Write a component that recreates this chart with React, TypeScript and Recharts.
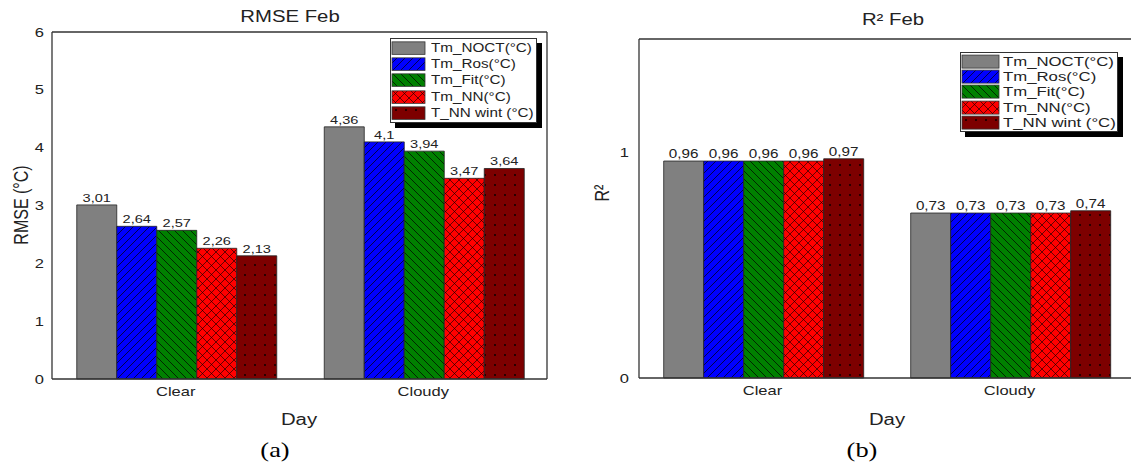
import React from 'react';
import { BarChart, Bar, XAxis, YAxis, LabelList } from 'recharts';

const categories = ['Clear', 'Cloudy'];
const seriesKeys = ['noct', 'ros', 'fit', 'nn', 'nnw'];
const seriesNames = ['Tm_NOCT(°C)', 'Tm_Ros(°C)', 'Tm_Fit(°C)', 'Tm_NN(°C)', 'T_NN wint (°C)'];

const rmseNoct = [3.01, 4.36];
const rmseRos = [2.64, 4.1];
const rmseFit = [2.57, 3.94];
const rmseNN = [2.26, 3.47];
const rmseNNWint = [2.13, 3.64];

const r2Noct = [0.96, 0.73];
const r2Ros = [0.96, 0.73];
const r2Fit = [0.96, 0.73];
const r2NN = [0.96, 0.73];
const r2NNWint = [0.97, 0.74];

const rmseTicks = [0, 1, 2, 3, 4, 5, 6];
const rmseMinorTicks = [0.5, 1.5, 2.5, 3.5, 4.5, 5.5];
const r2Ticks = [0, 1];
const r2MinorTicks = [0.5];
const catTickPositions = [0.5, 1, 1.5];

const rmseData = categories.map((day, i) => ({
  day,
  noct: rmseNoct[i],
  ros: rmseRos[i],
  fit: rmseFit[i],
  nn: rmseNN[i],
  nnw: rmseNNWint[i],
}));

const r2Data = categories.map((day, i) => ({
  day,
  noct: r2Noct[i],
  ros: r2Ros[i],
  fit: r2Fit[i],
  nn: r2NN[i],
  nnw: r2NNWint[i],
}));

const FONT = '"Liberation Sans", Arial, Helvetica, sans-serif';
const TEXT = '#222';
const AXIS = '#333';
const SX = 1.27;

function Patterns({ p }: { p: string }) {
  return (
    <defs>
      <pattern id={`${p}-noct`} patternUnits="userSpaceOnUse" width="8" height="8">
        <rect width="8" height="8" fill="#808080" />
      </pattern>
      <pattern id={`${p}-ros`} patternUnits="userSpaceOnUse" width="8" height="8">
        <rect width="8" height="8" fill="#0000ff" />
        <path d="M-2,2 L2,-2 M0,8 L8,0 M6,10 L10,6" stroke="#000" strokeWidth="0.7" />
      </pattern>
      <pattern id={`${p}-fit`} patternUnits="userSpaceOnUse" width="8" height="8">
        <rect width="8" height="8" fill="#008000" />
        <path d="M-2,6 L2,10 M0,0 L8,8 M6,-2 L10,2" stroke="#000" strokeWidth="0.7" />
      </pattern>
      <pattern id={`${p}-nn`} patternUnits="userSpaceOnUse" width="9" height="9">
        <rect width="9" height="9" fill="#ff0000" />
        <path d="M0,0 L9,9 M9,0 L0,9" stroke="#000" strokeWidth="0.6" />
      </pattern>
      <pattern id={`${p}-nnw`} patternUnits="userSpaceOnUse" width="10" height="10">
        <rect width="10" height="10" fill="#7d0000" />
        <circle cx="5" cy="5" r="0.9" fill="#000" />
      </pattern>
    </defs>
  );
}

const fmt = (v: any) => String(v).replace('.', ',');

function SText({ x, y, anchor, dy, size, children }: any) {
  return (
    <text
      x={x}
      y={y}
      dy={dy}
      textAnchor={anchor}
      fontSize={size}
      fill={TEXT}
      fontFamily={FONT}
      transform={`translate(${x} ${y}) scale(${SX} 1) translate(${-x} ${-y})`}
    >
      {children}
    </text>
  );
}

const XTick = (props: any) => (
  <SText x={props.x} y={props.y} anchor="middle" dy="0.71em" size={13}>
    {props.payload.value}
  </SText>
);

const YTick = (props: any) => (
  <SText x={props.x} y={props.y} anchor="end" dy="0.355em" size={13}>
    {props.payload.value}
  </SText>
);

const makeBarLabel = (size: number) => (props: any) => {
  const { x, y, width, value } = props;
  return (
    <SText x={Number(x) + Number(width) / 2} y={Number(y) - 3} anchor="middle" dy="0" size={size}>
      {fmt(value)}
    </SText>
  );
};

function Legendbox({ p, left, top, width, rowH, fontSize, swW, swH, gap }: any) {
  return (
    <div
      style={{
        position: 'absolute',
        left,
        top,
        width,
        border: '1px solid #333',
        background: '#fff',
        boxShadow: '5px 5px 0 #000',
        padding: '1px 0',
        fontFamily: FONT,
        fontSize,
        color: TEXT,
      }}
    >
      {seriesKeys.map((k, i) => (
        <div key={k} style={{ display: 'flex', alignItems: 'center', height: rowH }}>
          <svg width={swW + 2} height={rowH} style={{ display: 'block', flex: 'none' }}>
            <Patterns p={`${p}-${i}`} />
            <rect x={1} y={(rowH - swH) / 2} width={swW} height={swH} fill={`url(#${p}-${i}-${k})`} stroke="#333" strokeWidth={0.8} />
          </svg>
          <span
            style={{
              marginLeft: gap,
              whiteSpace: 'nowrap',
              lineHeight: 1,
              display: 'inline-block',
              transform: `scaleX(${SX})`,
              transformOrigin: 'left center',
            }}
          >
            {seriesNames[i]}
          </span>
        </div>
      ))}
    </div>
  );
}

function CText({ x, y, children, size = 16, rotate = false, serif = false, sx = SX }: any) {
  return (
    <div
      style={{
        position: 'absolute',
        left: x,
        top: y,
        transform: `translate(-50%, -50%)${rotate ? ` rotate(-90deg) scaleY(${sx})` : ` scaleX(${sx})`}`,
        whiteSpace: 'nowrap',
        lineHeight: 1,
        fontSize: size,
        fontFamily: serif ? '"Liberation Serif", "Times New Roman", serif' : FONT,
        color: serif ? '#000' : TEXT,
      }}
    >
      {children}
    </div>
  );
}

function Panel({ data, p, width, margin, domain, ticks, minor, labelSize, tickMargin }: any) {
  return (
    <BarChart width={width} height={466} data={data} margin={margin} barCategoryGap="10%" barGap={0}>
      <Patterns p={p} />
      {seriesKeys.map((k, i) => (
        <Bar
          key={k}
          yAxisId="main"
          dataKey={k}
          name={seriesNames[i]}
          fill={`url(#${p}-${k})`}
          stroke="#222"
          strokeWidth={0.8}
          isAnimationActive={false}
        >
          <LabelList dataKey={k} content={makeBarLabel(labelSize)} />
        </Bar>
      ))}
      <XAxis
        dataKey="day"
        height={30}
        tickLine={false}
        tickSize={0}
        tickMargin={8}
        axisLine={{ stroke: AXIS, strokeWidth: 1.3 }}
        tick={<XTick />}
      />
      <XAxis dataKey="day" xAxisId="top" orientation="top" mirror tick={false} tickLine={false} axisLine={{ stroke: AXIS, strokeWidth: 1.3 }} />
      <XAxis xAxisId="tb" type="number" domain={[0, 2]} ticks={catTickPositions} interval={0} mirror tick={false} tickSize={4} tickLine={{ stroke: AXIS }} axisLine={false} />
      <XAxis xAxisId="tt" type="number" orientation="top" domain={[0, 2]} ticks={catTickPositions} interval={0} mirror tick={false} tickSize={4} tickLine={{ stroke: AXIS }} axisLine={false} />
      <YAxis
        yAxisId="main"
        width={40}
        domain={domain}
        ticks={ticks}
        interval={0}
        tickLine={false}
        tickSize={0}
        tickMargin={tickMargin}
        axisLine={{ stroke: AXIS, strokeWidth: 1.3 }}
        tick={<YTick />}
      />
      <YAxis yAxisId="maj" mirror domain={domain} ticks={ticks} interval={0} tick={false} tickSize={7} tickLine={{ stroke: AXIS }} axisLine={false} />
      <YAxis yAxisId="min" mirror domain={domain} ticks={minor} interval={0} tick={false} tickSize={4} tickLine={{ stroke: AXIS }} axisLine={false} />
      <YAxis yAxisId="rmaj" orientation="right" mirror domain={domain} ticks={ticks} interval={0} tick={false} tickSize={6} tickLine={{ stroke: AXIS }} axisLine={{ stroke: AXIS, strokeWidth: 1.3 }} />
      <YAxis yAxisId="rmin" orientation="right" mirror domain={domain} ticks={minor} interval={0} tick={false} tickSize={4} tickLine={{ stroke: AXIS }} axisLine={false} />
    </BarChart>
  );
}

export default function App() {
  return (
    <div style={{ position: 'absolute', left: 0, top: 0, width: 1131, height: 466, overflow: 'hidden', background: '#fff', fontFamily: FONT }}>
      <div style={{ position: 'absolute', left: 0, top: 0 }}>
        <Panel
          data={rmseData}
          p="a"
          width={560}
          margin={{ top: 32, right: 13, left: 12, bottom: 57 }}
          domain={[0, 6]}
          ticks={rmseTicks}
          minor={rmseMinorTicks}
          labelSize={11.5}
          tickMargin={8}
        />
      </div>
      <div style={{ position: 'absolute', left: 565, top: 0 }}>
        <Panel
          data={r2Data}
          p="b"
          width={570}
          margin={{ top: 39, right: 2, left: 34, bottom: 58 }}
          domain={[0, 1.5]}
          ticks={r2Ticks}
          minor={r2MinorTicks}
          labelSize={12}
          tickMargin={10}
        />
      </div>

      <Legendbox p="la" left={390} top={38} width={145} rowH={16.2} fontSize={12} swW={33} swH={12.5} gap={5} />
      <Legendbox p="lb" left={960} top={52} width={156} rowH={15.2} fontSize={13.2} swW={37} swH={13} gap={3} />

      <CText x={290} y={17}>RMSE Feb</CText>
      <CText x={893} y={20}>R² Feb</CText>
      <CText x={22} y={205} rotate>RMSE (°C)</CText>
      <CText x={603} y={193} rotate>R²</CText>
      <CText x={299} y={420}>Day</CText>
      <CText x={887} y={420}>Day</CText>
      <CText x={275} y={450} size={22} serif sx={1.2}>(a)</CText>
      <CText x={862} y={450} size={22} serif sx={1.2}>(b)</CText>
    </div>
  );
}
